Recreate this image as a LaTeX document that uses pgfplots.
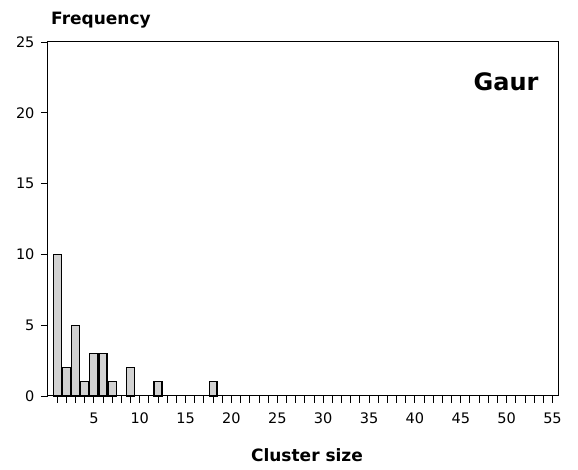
\documentclass[border=0pt]{standalone}
\usepackage{pgfplots}
\pgfplotsset{compat=1.18}
\usepackage{fontspec}
\setmainfont{DejaVu Sans}
\begin{document}
\begin{tikzpicture}
\path (-48pt,-74pt) rectangle (530pt,396pt);
\begin{axis}[
  scale only axis,
  width=510pt, height=354pt,
  at={(0pt,0pt)}, anchor=south west,
  xmin=0, xmax=55.6, ymin=0, ymax=25,
  xtick={5,10,...,55},
  minor xtick={1,...,55},
  ytick={0,5,...,25},
  tick align=outside,
  xtick pos=bottom, ytick pos=left,
  major tick length=7pt, minor tick length=7pt,
  every tick/.style={black, line width=0.9pt},
  axis line style={line width=1pt},
  tick label style={font=\fontsize{14.5}{16}\selectfont},
  /pgf/number format/assume math mode=true,
  xticklabel style={yshift=-6pt},
  yticklabel style={xshift=-3pt},
  clip=false,
]
\addplot[ybar, bar width=0.87, fill=gray!35, draw=black, line width=1.2pt]
  coordinates {(1,10) (2,2) (3,5) (4,1) (5,3) (6,3) (7,1) (9,2) (12,1) (18,1)};
\end{axis}
\node[font=\bfseries\fontsize{17}{19}\selectfont] at (53pt,376pt) {Frequency};
\node[font=\bfseries\fontsize{17}{19}\selectfont] at (259pt,-59pt) {Cluster size};
\node[font=\bfseries\fontsize{24}{26}\selectfont] at (458pt,314pt) {Gaur};
\end{tikzpicture}
\end{document}
